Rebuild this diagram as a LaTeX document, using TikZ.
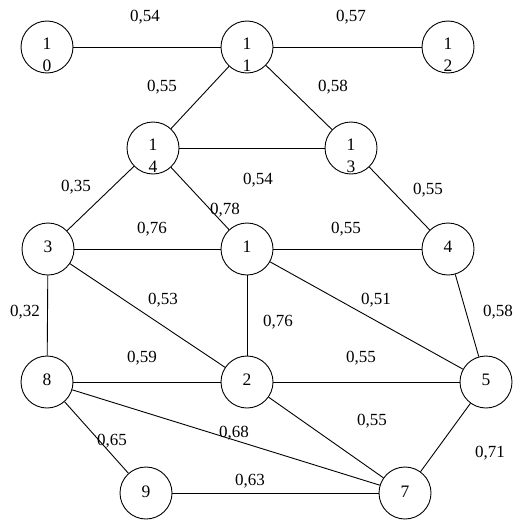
\documentclass[tikz,border=0pt]{standalone}
\usepackage{fontspec}
\setmainfont{Liberation Serif}
\begin{document}
\begin{tikzpicture}[x=1pt,y=-1pt,
  vtx/.style={circle,draw,line width=0.9pt,minimum size=52pt,inner sep=0pt},
  dig/.style={inner sep=0pt,font=\fontsize{17.5}{19}\selectfont},
  wt/.style={inner sep=0pt,font=\fontsize{17}{19}\selectfont},
  edge/.style={line width=0.9pt}]
\useasboundingbox (0,0) rectangle (526,519);
% vertices
\node[vtx] (n10) at (47,47) {};
\node[vtx] (n11) at (247,47) {};
\node[vtx] (n12) at (448,47) {};
\node[vtx] (n14) at (153,148) {};
\node[vtx] (n13) at (351,148) {};
\node[vtx] (n3) at (48,249) {};
\node[vtx] (n1) at (247,249) {};
\node[vtx] (n4) at (448,249) {};
\node[vtx] (n8) at (47,382) {};
\node[vtx] (n2) at (247,382) {};
\node[vtx] (n5) at (486,382) {};
\node[vtx] (n9) at (146,493) {};
\node[vtx] (n7) at (405,493) {};
% vertex labels
\node[dig] (t10a) at (47,44) {1};
\node[dig] (t10b) at (47,66) {0};
\node[dig] (t11a) at (247,44) {1};
\node[dig] (t11b) at (247,66) {1};
\node[dig] (t12a) at (448,44) {1};
\node[dig] (t12b) at (448,66) {2};
\node[dig] (t14a) at (153,145) {1};
\node[dig] (t14b) at (153,167) {4};
\node[dig] (t13a) at (351,145) {1};
\node[dig] (t13b) at (351,167) {3};
\node[dig] (t3) at (48,247) {3};
\node[dig] (t1) at (247,247) {1};
\node[dig] (t4) at (448,247) {4};
\node[dig] (t8) at (47,380) {8};
\node[dig] (t2) at (247,380) {2};
\node[dig] (t5) at (486,380) {5};
\node[dig] (t9) at (146,492) {9};
\node[dig] (t7) at (405,492) {7};
% edges
\draw[edge] (n10) -- (n11);
\draw[edge] (n11) -- (n12);
\draw[edge] (n11) -- (n14);
\draw[edge] (n11) -- (n13);
\draw[edge] (n14) -- (n13);
\draw[edge] (n14) -- (n3);
\draw[edge] (n14) -- (n1);
\draw[edge] (n13) -- (n4);
\draw[edge] (n3) -- (n1);
\draw[edge] (n1) -- (n4);
\draw[edge] (n3) -- (n8);
\draw[edge] (n3) -- (n2);
\draw[edge] (n1) -- (n2);
\draw[edge] (n1) -- (n5);
\draw[edge] (n4) -- (n5);
\draw[edge] (n8) -- (n2);
\draw[edge] (n2) -- (n5);
\draw[edge] (n8) -- (n9);
\draw[edge] (n8) -- (n7);
\draw[edge] (n2) -- (n7);
\draw[edge] (n5) -- (n7);
\draw[edge] (n9) -- (n7);
% weights
\node[wt] (w1) at (145,17) {0,54};
\node[wt] (w2) at (351,17) {0,57};
\node[wt] (w3) at (162,87) {0,55};
\node[wt] (w4) at (333,87) {0,58};
\node[wt] (w5) at (258,180) {0,54};
\node[wt] (w6) at (76,187) {0,35};
\node[wt] (w7) at (225,210) {0,78};
\node[wt] (w8) at (428,190) {0,55};
\node[wt] (w9) at (152,229) {0,76};
\node[wt] (w10) at (346,229) {0,55};
\node[wt] (w11) at (25,312) {0,32};
\node[wt] (w12) at (163,300) {0,53};
\node[wt] (w13) at (376,300) {0,51};
\node[wt] (w14) at (278,322) {0,76};
\node[wt] (w15) at (498,312) {0,58};
\node[wt] (w16) at (142,358) {0,59};
\node[wt] (w17) at (361,358) {0,55};
\node[wt] (w18) at (372,421) {0,55};
\node[wt] (w19) at (112,441) {0,65};
\node[wt] (w20) at (234,433) {0,68};
\node[wt] (w21) at (490,453) {0,71};
\node[wt] (w22) at (250,481) {0,63};
\end{tikzpicture}
\end{document}
